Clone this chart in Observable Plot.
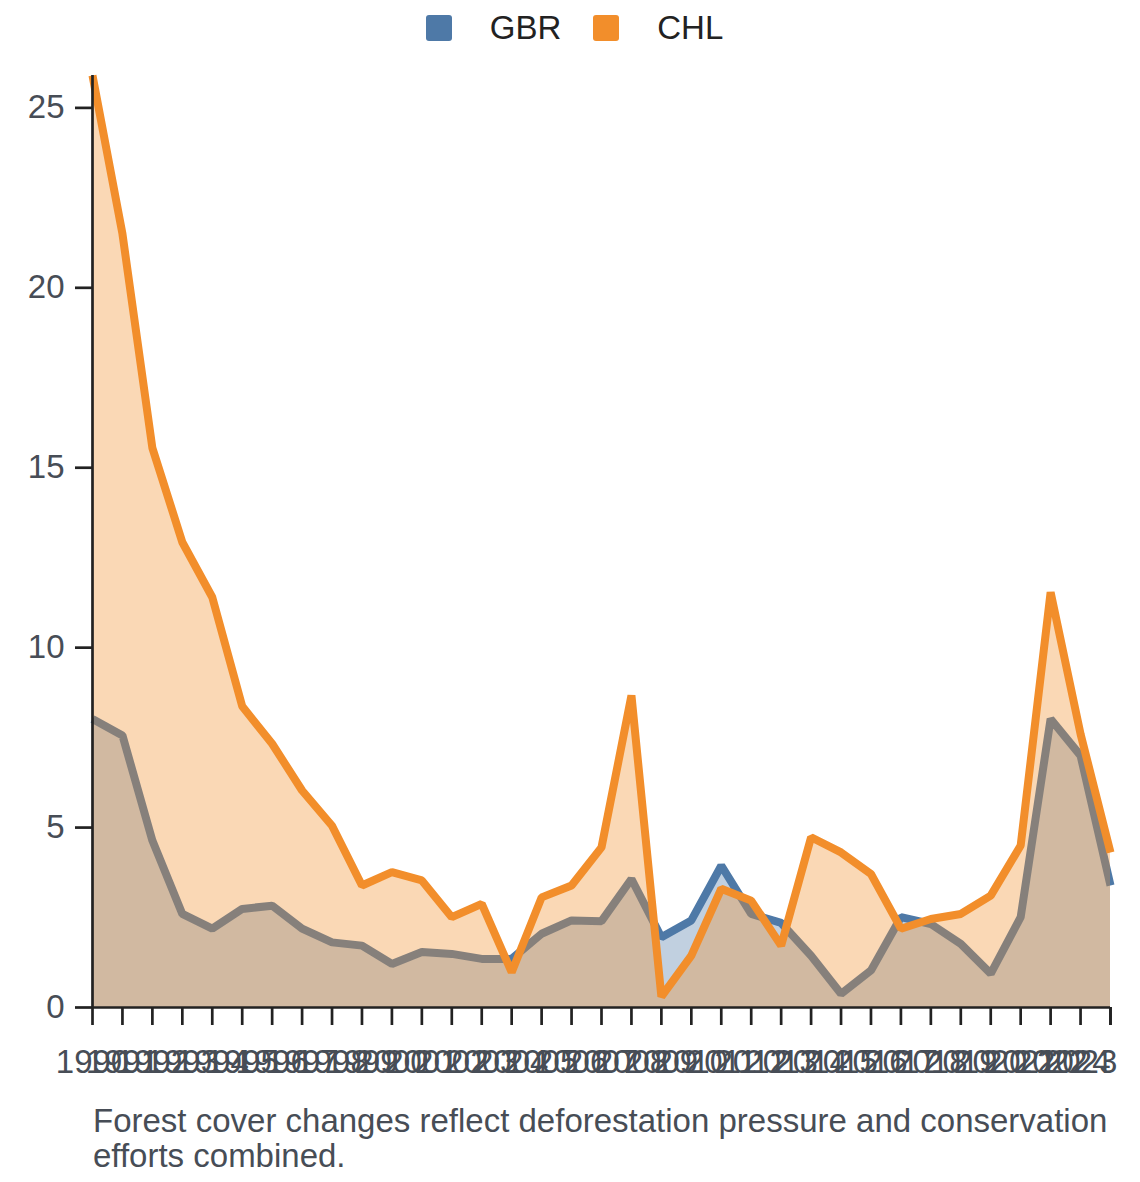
<!DOCTYPE html>
<html>
<head>
<meta charset="utf-8">
<script src="https://cdn.jsdelivr.net/npm/d3@7"></script>
<script src="https://cdn.jsdelivr.net/npm/@observablehq/plot@0.6"></script>
<style>
  html, body { margin: 0; padding: 0; background: #fff; }
  body { width: 1140px; font-family: "Liberation Sans", Arial, sans-serif; }
  #legend { height: 55px; display: flex; align-items: center; justify-content: center; padding-left: 9px; box-sizing: border-box; font-size: 33px; color: #222; }
  .item { display: flex; align-items: center; }
  .item + .item { margin-left: 32px; }
  .sw { width: 26px; height: 26px; border-radius: 3px; margin-right: 38px; }
  #caption { margin-top: 21px; padding-left: 93px; width: 1040px; font-size: 33px; line-height: 35px; color: #474d56; }
</style>
</head>
<body>
<div id="legend"></div>
<div id="chart"></div>
<div id="caption"></div>
<script>
const years = [1990, 1991, 1992, 1993, 1994, 1995, 1996, 1997, 1998, 1999,
               2000, 2001, 2002, 2003, 2004, 2005, 2006, 2007, 2008, 2009,
               2010, 2011, 2012, 2013, 2014, 2015, 2016, 2017, 2018, 2019,
               2020, 2021, 2022, 2023, 2024];
const series = ["GBR", "CHL"];
const colors = ["#4e79a7", "#f28e2b"];
const gbr = [8.02, 7.56, 4.64, 2.6, 2.19, 2.74, 2.83, 2.19, 1.81, 1.72,
             1.21, 1.54, 1.49, 1.35, 1.35, 2.05, 2.42, 2.4, 3.57, 1.95,
             2.42, 3.94, 2.6, 2.35, 1.44, 0.38, 1.03, 2.51, 2.32, 1.77,
             0.94, 2.51, 8.02, 7.0, 3.39];
const chl = [25.9, 21.5, 15.55, 12.93, 11.4, 8.37, 7.33, 6.03, 5.05, 3.39,
             3.76, 3.53, 2.51, 2.88, 0.98, 3.06, 3.39, 4.45, 8.67, 0.3,
             1.44, 3.3, 2.97, 1.72, 4.73, 4.31, 3.71, 2.19, 2.46, 2.6,
             3.11, 4.5, 11.54, 7.6, 4.31];
const yTicks = [0, 5, 10, 15, 20, 25];
const caption = "Forest cover changes reflect deforestation pressure and conservation efforts combined.";

const gbrData = years.map((year, i) => ({year, value: gbr[i], country: "GBR"}));
const chlData = years.map((year, i) => ({year, value: chl[i], country: "CHL"}));

// legend
const legend = document.getElementById("legend");
series.forEach((s, i) => {
  const item = document.createElement("div");
  item.className = "item";
  const sw = document.createElement("div");
  sw.className = "sw";
  sw.style.background = colors[i];
  const t = document.createElement("span");
  t.textContent = s;
  item.appendChild(sw);
  item.appendChild(t);
  legend.appendChild(item);
});
document.getElementById("caption").textContent = caption;

const axisColor = "#222";
const labelColor = "#474d56";
const lineOpts = {x: "year", y: "value", strokeWidth: 8, strokeLinejoin: "miter", strokeLinecap: "butt"};
const lastYear = years[years.length - 1];

const chart = Plot.plot({
  width: 1140,
  height: 1027,
  marginLeft: 92,
  marginRight: 30,
  marginTop: 20,
  marginBottom: 75,
  style: {fontSize: "33px", fontFamily: "'Liberation Sans', Arial, sans-serif", overflow: "visible", background: "#fff"},
  x: {type: "linear", domain: [years[0], lastYear], label: null},
  y: {domain: [0, d3.max(chl)], label: null},
  marks: [
    Plot.areaY(gbrData, {x: "year", y: "value", fill: colors[0], fillOpacity: 0.35}),
    Plot.lineY(gbrData, {...lineOpts, stroke: colors[0]}),
    Plot.areaY(chlData, {x: "year", y: "value", fill: colors[1], fillOpacity: 0.35}),
    Plot.lineY(chlData, {...lineOpts, stroke: colors[1]}),
    Plot.ruleX([years[0]], {stroke: axisColor, strokeWidth: 2.7}),
    Plot.ruleY([0], {stroke: axisColor, strokeWidth: 2.7}),
    Plot.axisX({ticks: years, tickFormat: d => d === lastYear ? "" : String(d), tickSize: 18, tickPadding: 24,
                stroke: axisColor, strokeWidth: 2.7, fill: labelColor, label: null}),
    Plot.axisX({ticks: [lastYear], tickFormat: d => String(d), tickSize: 18, tickPadding: 24, textAnchor: "end",
                stroke: axisColor, strokeWidth: 2.7, fill: labelColor, label: null}),
    Plot.axisY({ticks: yTicks, tickSize: 17, tickPadding: 11,
                stroke: axisColor, strokeWidth: 2.7, fill: labelColor, label: null})
  ]
});
document.getElementById("chart").appendChild(chart);
</script>
</body>
</html>
